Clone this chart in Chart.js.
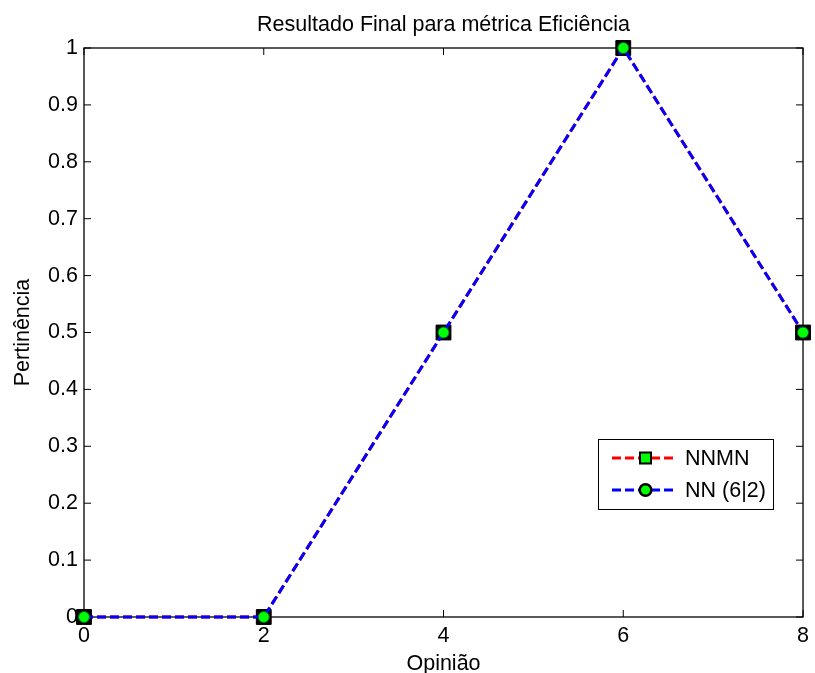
<!DOCTYPE html>
<html lang="pt">
<head>
  <meta charset="UTF-8">
  <title>Resultado Final para métrica Eficiência</title>
  <script src="https://cdn.jsdelivr.net/npm/chart.js"></script>
  <style>
    html, body {
      margin: 0;
      padding: 0;
      background: #fff;
    }
    #wrap {
      width: 815px;
      height: 673px;
    }
  </style>
</head>
<body>
  <div id="wrap"><canvas id="grafico" width="815" height="673"></canvas></div>

  <script>
    // dados
    const opinioes = [0, 2, 4, 6, 8];
    const nnmn = [0, 0, 0.5, 1, 0.5];
    const nn62 = [0, 0, 0.5, 1, 0.5];
    const nomesSeries = ["NNMN", "NN (6|2)"];
    const xTicks = ["0", "2", "4", "6", "8"];
    const yTicks = ["0", "0.1", "0.2", "0.3", "0.4", "0.5", "0.6", "0.7", "0.8", "0.9", "1"];
    const titulo = "Resultado Final para métrica Eficiência";

    const FONTE = "Liberation Sans, Arial, sans-serif";
    const TAM = 21.5;

    // caixa e marcas internas (estilo matlab)
    const caixaPlugin = {
      id: "caixa",
      beforeDatasetsDraw(chart) {
        const {ctx, chartArea: a, scales} = chart;
        ctx.save();
        ctx.strokeStyle = "#000";
        ctx.lineWidth = 1.3;
        ctx.strokeRect(a.left, a.top, a.right - a.left, a.bottom - a.top);
        const tl = 7;
        ctx.beginPath();
        scales.x.ticks.forEach(t => {
          const px = scales.x.getPixelForValue(t.value);
          ctx.moveTo(px, a.bottom); ctx.lineTo(px, a.bottom - tl);
          ctx.moveTo(px, a.top); ctx.lineTo(px, a.top + tl);
        });
        scales.y.ticks.forEach(t => {
          const py = scales.y.getPixelForValue(t.value);
          ctx.moveTo(a.left, py); ctx.lineTo(a.left + tl, py);
          ctx.moveTo(a.right, py); ctx.lineTo(a.right - tl, py);
        });
        ctx.lineWidth = 1;
        ctx.stroke();
        ctx.restore();
      },
      afterDraw(chart) {
        const {ctx, chartArea: a} = chart;
        ctx.save();
        ctx.fillStyle = "#000";
        ctx.font = TAM + "px " + FONTE;
        ctx.textAlign = "center";
        ctx.textBaseline = "alphabetic";
        ctx.fillText(titulo, (a.left + a.right) / 2, 31);
        ctx.restore();
      }
    };

    // legenda dentro do gráfico
    const legendaPlugin = {
      id: "legendaInterna",
      afterDraw(chart) {
        const ctx = chart.ctx;
        const x0 = 598, y0 = 439, w = 175, h = 70;
        ctx.save();
        ctx.fillStyle = "#fff";
        ctx.fillRect(x0, y0, w, h);
        ctx.strokeStyle = "#000";
        ctx.lineWidth = 1;
        ctx.strokeRect(x0 + 0.5, y0 + 0.5, w, h);

        const linhas = [458, 490];
        chart.data.datasets.forEach((ds, i) => {
          const y = linhas[i];
          ctx.setLineDash([9, 4]);
          ctx.strokeStyle = ds.borderColor;
          ctx.lineWidth = 3;
          ctx.beginPath();
          ctx.moveTo(612, y);
          ctx.lineTo(676, y);
          ctx.stroke();
          ctx.setLineDash([]);
          ctx.fillStyle = "#00ff00";
          ctx.strokeStyle = "#000";
          ctx.beginPath();
          if (i === 0) {
            ctx.lineWidth = 2;
            ctx.rect(640, y - 5.5, 11, 11);
          } else {
            ctx.lineWidth = 2.5;
            ctx.arc(645.5, y, 5.8, 0, Math.PI * 2);
          }
          ctx.fill();
          ctx.stroke();
          ctx.fillStyle = "#000";
          ctx.font = TAM + "px " + FONTE;
          ctx.textAlign = "left";
          ctx.textBaseline = "middle";
          ctx.fillText(nomesSeries[i], 685, y + 1);
        });
        ctx.restore();
      }
    };

    new Chart(document.getElementById("grafico"), {
      type: "line",
      data: {
        datasets: [
          {
            label: nomesSeries[0],
            data: opinioes.map((x, i) => ({x: x, y: nnmn[i]})),
            borderColor: "#ff0000",
            borderWidth: 3,
            borderDash: [9, 4],
            pointStyle: "rect",
            pointRadius: 10.5,
            pointBackgroundColor: "#000",
            pointBorderColor: "#000",
            pointBorderWidth: 1,
            fill: false,
            tension: 0,
            clip: false,
            order: 2
          },
          {
            label: nomesSeries[1],
            data: opinioes.map((x, i) => ({x: x, y: nn62[i]})),
            borderColor: "#0000ff",
            borderWidth: 3,
            borderDash: [9, 4],
            pointStyle: "circle",
            pointRadius: 5.5,
            pointBackgroundColor: "#00ff00",
            pointBorderColor: "#063",
            pointBorderWidth: 1,
            fill: false,
            tension: 0,
            clip: false,
            order: 1
          }
        ]
      },
      options: {
        responsive: false,
        animation: false,
        events: [],
        layout: {padding: {top: 48, right: 9, left: 0, bottom: 0}},
        plugins: {
          legend: {display: false},
          tooltip: {enabled: false},
          title: {display: false}
        },
        scales: {
          x: {
            type: "linear",
            min: 0,
            max: 8,
            afterFit: s => { s.height = 56; },
            grid: {display: false, drawTicks: false},
            border: {display: false},
            ticks: {
              stepSize: 2,
              autoSkip: false,
              maxRotation: 0,
              padding: 6,
              color: "#000",
              font: {family: FONTE, size: TAM},
              callback: v => xTicks[Math.round(v / 2)]
            },
            title: {
              display: true,
              text: "Opinião",
              color: "#000",
              padding: 0,
              font: {family: FONTE, size: TAM, lineHeight: 0.8}
            }
          },
          y: {
            min: 0,
            max: 1,
            afterFit: s => { s.width = 84; },
            grid: {display: false, drawTicks: false},
            border: {display: false},
            ticks: {
              stepSize: 0.1,
              autoSkip: false,
              padding: 6,
              color: "#000",
              font: {family: FONTE, size: TAM},
              callback: v => yTicks[Math.round(v * 10)]
            },
            title: {
              display: true,
              text: "Pertinência",
              color: "#000",
              padding: {top: 10, bottom: 0},
              font: {family: FONTE, size: TAM, lineHeight: 1.2}
            }
          }
        }
      },
      plugins: [caixaPlugin, legendaPlugin]
    });
  </script>
</body>
</html>
